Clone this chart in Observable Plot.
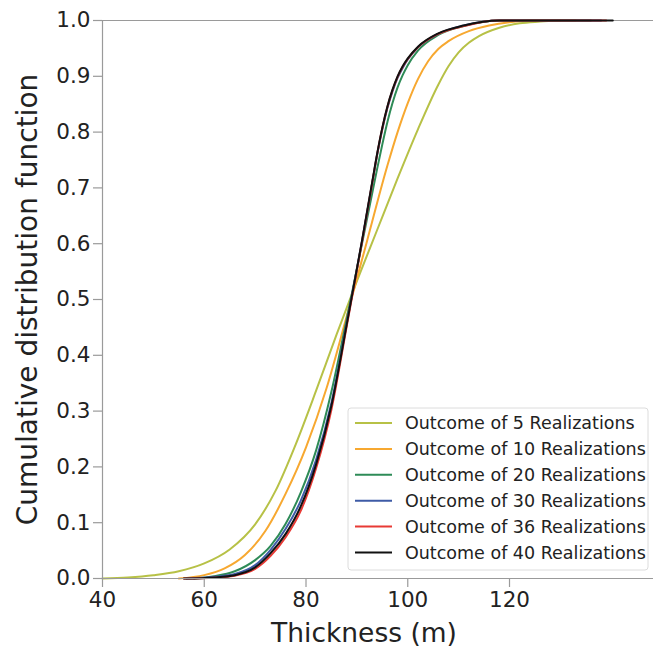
<!DOCTYPE html>
<html>
<head>
<meta charset="utf-8">
<script src="https://cdn.jsdelivr.net/npm/d3@7"></script>
<script src="https://cdn.jsdelivr.net/npm/@observablehq/plot@0.6"></script>
<style>
  html, body { margin: 0; padding: 0; background: #fff; }
  svg { font-family: "DejaVu Sans", sans-serif; }
</style>
</head>
<body>
<div id="chart"></div>
<script>
// Series names and colours
const seriesNames = ["Outcome of 5 Realizations", "Outcome of 10 Realizations", "Outcome of 20 Realizations",
  "Outcome of 30 Realizations", "Outcome of 36 Realizations", "Outcome of 40 Realizations"];
const seriesColors = ["#b7c146", "#f7a830", "#2e8b57", "#3e5ba6", "#e83a35", "#111111"];

// Thickness (m) and CDF values
const x5  = [40, 45, 50, 55, 60, 65, 70, 74, 78, 82, 86, 90, 94, 98, 102, 106, 108, 110, 112, 114, 118, 122, 126, 130];
const y5  = [0, 0.002, 0.006, 0.013, 0.027, 0.052, 0.097, 0.157, 0.241, 0.337, 0.437, 0.533, 0.625, 0.717, 0.805, 0.885, 0.918, 0.943, 0.96, 0.972, 0.987, 0.995, 0.998, 1.0];

const x10 = [55, 60, 64, 68, 72, 76, 80, 84, 88, 92, 96, 98, 100, 102, 104, 106, 108, 112, 116, 120, 124, 133];
const y10 = [0, 0.006, 0.018, 0.042, 0.085, 0.152, 0.235, 0.34, 0.47, 0.605, 0.74, 0.8, 0.852, 0.895, 0.927, 0.949, 0.963, 0.981, 0.991, 0.997, 1.0, 1.0];

const x20 = [58, 62, 66, 70, 73, 76, 79, 82, 85, 88, 91, 93, 94, 95, 96, 97, 98, 99, 100, 102, 106, 111, 118, 136];
const y20 = [0, 0.004, 0.013, 0.033, 0.058, 0.098, 0.155, 0.23, 0.335, 0.465, 0.6, 0.69, 0.735, 0.778, 0.818, 0.852, 0.88, 0.902, 0.92, 0.946, 0.974, 0.99, 1.0, 1.0];

const x30 = [56.5, 62, 66, 70, 73, 76, 79, 82, 85, 88, 91, 93, 94, 95, 96, 97, 98, 99, 100, 102, 106, 111, 118, 138];
const y30 = [0, 0.003, 0.008, 0.024, 0.051, 0.089, 0.14, 0.213, 0.315, 0.457, 0.604, 0.708, 0.76, 0.805, 0.843, 0.873, 0.897, 0.915, 0.93, 0.952, 0.976, 0.991, 1.0, 1.0];

const x36 = [56, 62, 66, 70, 73, 76, 79, 82, 85, 88, 91, 93, 94, 95, 96, 97, 98, 99, 100, 102, 106, 111, 117.5, 139];
const y36 = [0, 0.0015, 0.005, 0.017, 0.04, 0.074, 0.122, 0.198, 0.303, 0.452, 0.603, 0.708, 0.761, 0.807, 0.845, 0.875, 0.899, 0.917, 0.931, 0.952, 0.976, 0.99, 1.0, 1.0];

const x40 = [56, 62, 66, 70, 73, 76, 79, 82, 85, 88, 91, 93, 94, 95, 96, 97, 98, 99, 100, 102, 106, 111, 118, 140.3];
const y40 = [0, 0.002, 0.006, 0.02, 0.045, 0.08, 0.13, 0.205, 0.31, 0.455, 0.605, 0.71, 0.762, 0.808, 0.846, 0.876, 0.9, 0.918, 0.932, 0.953, 0.977, 0.991, 1.0, 1.0];

const xTicks = [40, 60, 80, 100, 120];
const yTicks = [0, 0.1, 0.2, 0.3, 0.4, 0.5, 0.6, 0.7, 0.8, 0.9, 1.0];

const allX = [x5, x10, x20, x30, x36, x40];
const allY = [y5, y10, y20, y30, y36, y40];
const data = [];
allX.forEach((xs, i) => xs.forEach((x, j) => data.push({series: seriesNames[i], x, y: allY[i][j]})));

const W = 653, H = 655;
const mL = 102, mR = 0, mT = 20, mB = 77;
const axisColor = "#9a9a9a";

const plot = Plot.plot({
  width: W, height: H,
  marginLeft: mL, marginRight: mR, marginTop: mT, marginBottom: mB,
  style: {fontFamily: "DejaVu Sans, sans-serif", background: "#fff", color: "#222"},
  x: {domain: [40, 148.3]},
  y: {domain: [0, 1]},
  color: {domain: seriesNames, range: seriesColors},
  marks: [
    Plot.ruleY([1], {stroke: axisColor, strokeWidth: 1.2}),
    Plot.line(data, {x: "x", y: "y", z: "series", stroke: "series", strokeWidth: 2, curve: "monotone-x"}),
    Plot.axisX({ticks: xTicks, tickFormat: d => String(d), tickSize: 9, tickPadding: 4, fontSize: 21.5,
      stroke: axisColor, strokeWidth: 1.2, label: null}),
    Plot.axisY({ticks: yTicks, tickFormat: d => d.toFixed(1), tickSize: 9, tickPadding: 3, fontSize: 21.5,
      stroke: axisColor, strokeWidth: 1.2, label: null}),
    Plot.ruleX([40], {stroke: axisColor, strokeWidth: 1.2}),
    Plot.ruleY([0], {stroke: axisColor, strokeWidth: 1.2}),
    Plot.text(["Thickness (m)"], {frameAnchor: "bottom", dy: 55, dx: -14, fontSize: 26.5, fill: "#222", textAnchor: "middle", lineAnchor: "middle"}),
    Plot.text(["Cumulative distribution function"], {frameAnchor: "left", dx: -74, rotate: -90, fontSize: 28, fill: "#222", textAnchor: "middle", lineAnchor: "middle"})
  ]
});

// Legend inside the plot (lower right)
const svg = d3.select(plot);
const lg = svg.append("g").attr("text-anchor", "start");
const lx = 348, ly = 408, lw = 300, lh = 162, rowH = 25.9;
lg.append("rect").attr("x", lx).attr("y", ly).attr("width", lw).attr("height", lh)
  .attr("rx", 3).attr("fill", "#fff").attr("fill-opacity", 0.85).attr("stroke", "#dcdcdc");
seriesNames.forEach((name, i) => {
  const cy = ly + 15 + i * rowH;
  lg.append("line").attr("x1", lx + 7).attr("x2", lx + 44).attr("y1", cy).attr("y2", cy)
    .attr("stroke", seriesColors[i]).attr("stroke-width", 2);
  lg.append("text").attr("x", lx + 57).attr("y", cy).attr("dy", "0.35em").attr("text-anchor", "start")
    .attr("font-size", 17.5).attr("fill", "#222").attr("font-family", "DejaVu Sans, sans-serif").text(name);
});

document.getElementById("chart").appendChild(plot);
</script>
</body>
</html>
